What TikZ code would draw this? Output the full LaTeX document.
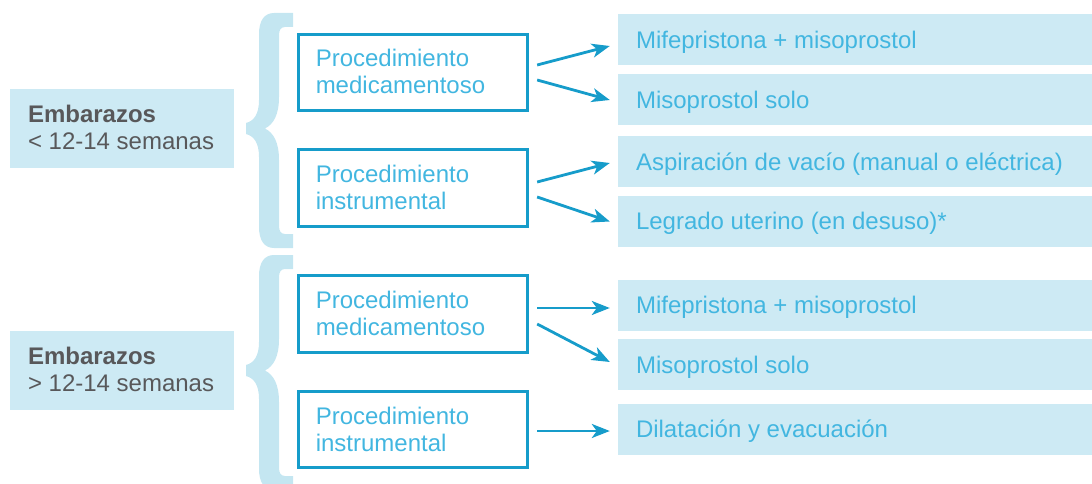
\documentclass[tikz,border=0pt]{standalone}
\usepackage{fontspec}
\setmainfont{Liberation Sans}
\usetikzlibrary{arrows.meta,calc}
\definecolor{boxblue}{RGB}{22,156,202}
\definecolor{txtblue}{RGB}{66,182,224}
\definecolor{fillblue}{RGB}{205,234,244}
\definecolor{bracecol}{RGB}{196,230,241}
\definecolor{greytxt}{RGB}{88,88,90}
\newcommand\mytwolines[3]{\vtop{\baselineskip=27pt\hbox to #1{#2\hfil}\hbox to #1{#3\hfil}}}
\tikzset{
  leftbox/.style={fill=fillblue, minimum width=224pt, minimum height=79pt, inner xsep=18pt, inner ysep=0pt, text height=16pt, text depth=27pt, text=greytxt},
  procbox/.style={draw=boxblue, line width=2.8pt, minimum width=229.5pt, minimum height=76.5pt, inner xsep=17.5pt, inner ysep=0pt, text height=16pt, text depth=27pt, text=txtblue},
  resbox/.style={fill=fillblue, minimum width=474pt, minimum height=51pt, inner xsep=18pt, inner ysep=0pt, text height=17.5pt, text depth=0pt, text=txtblue},
  conn/.style={draw=boxblue, line width=2.8pt, -{Stealth[length=18pt,width=14pt,inset=5pt]}},
  mybrace/.pic={
    \fill[bracecol] (293,13) -- (274,13) .. controls (264,13) and (259,21) .. (259,34)
      -- (259,100) .. controls (259,114) and (254,121) .. (246,123)
      -- (246,134) .. controls (254,136) and (259,143) .. (259,157)
      -- (259,227) .. controls (259,240) and (264,248) .. (274,248)
      -- (293,248) -- (293,234) -- (285,234) .. controls (281,234) and (279,231) .. (279,226)
      -- (279,160) .. controls (279,143) and (274,133) .. (265,128.5)
      .. controls (274,124) and (279,114) .. (279,97)
      -- (279,35) .. controls (279,30) and (281,27) .. (285,27)
      -- (293,27) -- cycle;
  }
}
\begin{document}
\begin{tikzpicture}[x=1pt,y=-1pt,font=\fontsize{24}{27}\selectfont]
\useasboundingbox (0,0) rectangle (1092,484);
% braces
\pic at (0,0) {mybrace};
\pic at (0,242) {mybrace};
% left boxes
\node[leftbox] (L1) at (122,128.5) {\mytwolines{188pt}{\bfseries Embarazos}{< 12-14 semanas}};
\node[leftbox] (L2) at (122,370) {\mytwolines{188pt}{\bfseries Embarazos}{> 12-14 semanas}};
% procedure boxes
\node[procbox] (P1) at (413,72.5) {\mytwolines{194.5pt}{Procedimiento}{medicamentoso}};
\node[procbox] (P2) at (413,188) {\mytwolines{194.5pt}{Procedimiento}{instrumental}};
\node[procbox] (P3) at (413,314) {\mytwolines{194.5pt}{Procedimiento}{medicamentoso}};
\node[procbox] (P4) at (413,429.5) {\mytwolines{194.5pt}{Procedimiento}{instrumental}};
% result boxes
\node[resbox] (R1) at (855,39.5) {\makebox[438pt][l]{Mifepristona + misoprostol}};
\node[resbox] (R2) at (855,99.5) {\makebox[438pt][l]{Misoprostol solo}};
\node[resbox] (R3) at (855,161.5) {\makebox[438pt][l]{Aspiración de vacío (manual o eléctrica)}};
\node[resbox] (R4) at (855,221) {\makebox[438pt][l]{Legrado uterino (en desuso)*}};
\node[resbox] (R5) at (855,305) {\makebox[438pt][l]{Mifepristona + misoprostol}};
\node[resbox] (R6) at (855,364.5) {\makebox[438pt][l]{Misoprostol solo}};
\node[resbox] (R7) at (855,429) {\makebox[438pt][l]{Dilatación y evacuación}};
% connectors
\draw[conn] ($(P1.east)+(8,-7.5)$) -- ($(R1.west)+(-8,6.5)$);
\draw[conn] ($(P1.east)+(8,7.5)$) -- ($(R2.west)+(-8,0.5)$);
\draw[conn] ($(P2.east)+(8,-6)$) -- ($(R3.west)+(-8,1.5)$);
\draw[conn] ($(P2.east)+(8,9)$) -- ($(R4.west)+(-8,0.5)$);
\draw[conn] ($(P3.east)+(8,-6)$) -- ($(R5.west)+(-8,3)$);
\draw[conn] ($(P3.east)+(8,10)$) -- ($(R6.west)+(-8,-2.5)$);
\draw[conn] ($(P4.east)+(8,1.5)$) -- ($(R7.west)+(-8,2)$);
\end{tikzpicture}
\end{document}
